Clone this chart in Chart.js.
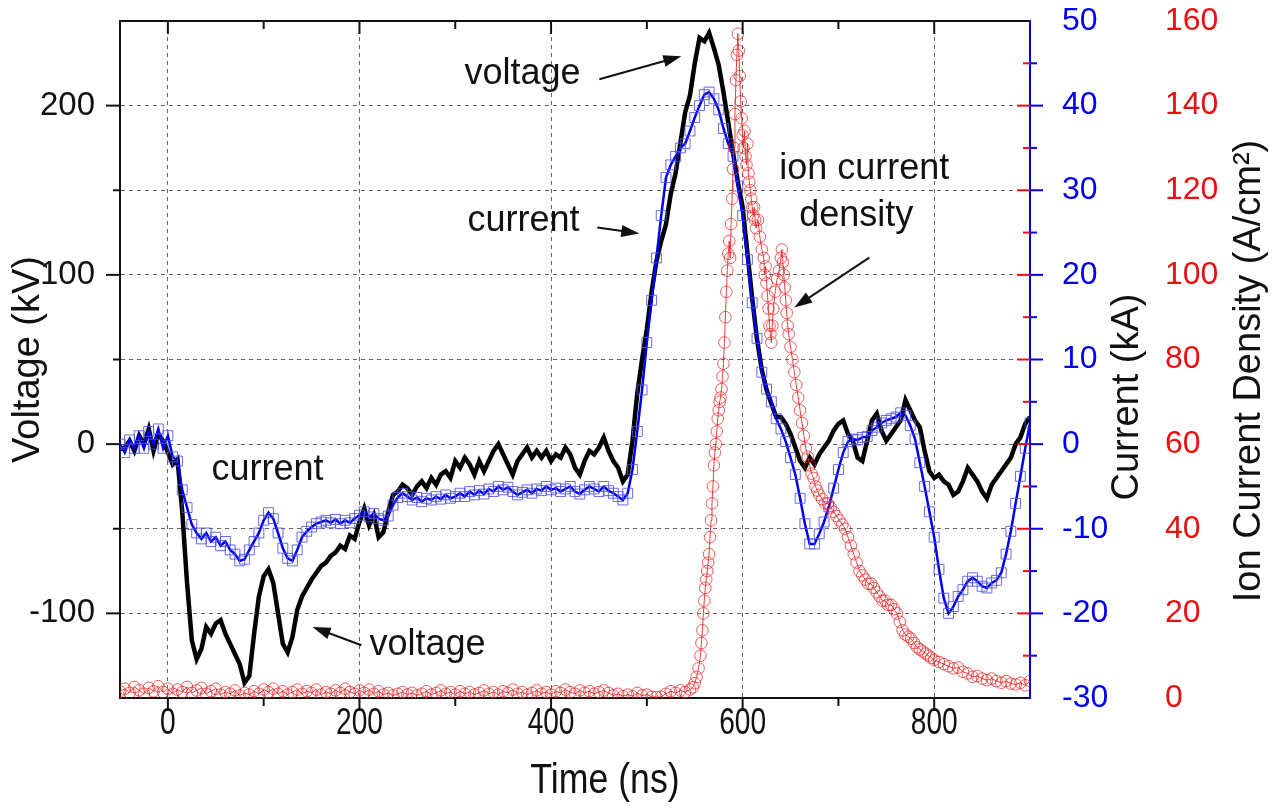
<!DOCTYPE html>
<html>
<head>
<meta charset="utf-8">
<script src="https://cdn.jsdelivr.net/npm/chart.js@4.4.1/dist/chart.umd.min.js"></script>
<style>
  html, body { margin: 0; padding: 0; background: #fff; }
  canvas { display: block; }
</style>
</head>
<body>
<canvas id="chart" width="1278" height="808"></canvas>
<script>
// sample times (ns) for voltage and current
const time = [
  -50, -45, -40, -35, -30, -25, -20, -15, -10, -5, 0, 5, 10, 15, 20, 25, 30, 35, 40, 45,
  50, 55, 60, 65, 70, 75, 80, 85, 90, 95, 100, 105, 110, 115, 120, 125, 130, 135, 140, 145,
  150, 155, 160, 165, 170, 175, 180, 185, 190, 195, 200, 205, 210, 215, 220, 225, 230, 235, 240, 245,
  250, 255, 260, 265, 270, 275, 280, 285, 290, 295, 300, 305, 310, 315, 320, 325, 330, 335, 340, 345,
  350, 355, 360, 365, 370, 375, 380, 385, 390, 395, 400, 405, 410, 415, 420, 425, 430, 435, 440, 445,
  450, 455, 460, 465, 470, 475, 480, 485, 490, 495, 500, 505, 510, 515, 520, 525, 530, 535, 540, 545,
  550, 555, 560, 565, 570, 575, 580, 585, 590, 595, 600, 605, 610, 615, 620, 625, 630, 635, 640, 645,
  650, 655, 660, 665, 670, 675, 680, 685, 690, 695, 700, 705, 710, 715, 720, 725, 730, 735, 740, 745,
  750, 755, 760, 765, 770, 775, 780, 785, 790, 795, 800, 805, 810, 815, 820, 825, 830, 835, 840, 845,
  850, 855, 860, 865, 870, 875, 880, 885, 890, 895, 900
];

// voltage (kV)
const voltage = [
  -3, -2, 2, -4, 5, 0, 9, -4, 6, 2, -5, -12, -9, -40, -82, -116, -127, -121, -108, -112,
  -106, -104, -112, -118, -124, -130, -141, -137, -112, -90, -78, -74, -82, -100, -118, -123, -114, -98, -90, -85,
  -80, -76, -72, -70, -66, -64, -60, -62, -54, -56, -46, -38, -48, -42, -55, -52, -40, -30, -28, -24,
  -26, -30, -25, -22, -26, -20, -24, -18, -16, -20, -10, -14, -8, -12, -18, -10, -16, -10, -4, 0,
  -6, -12, -18, -10, -6, -2, -8, -4, -8, -4, -10, -6, -8, -2, -6, -14, -18, -10, -4, -6,
  -2, 4, -4, -10, -14, -22, -18, 2, 30, 50, 68, 90, 108, 120, 130, 148, 160, 178, 196, 206,
  225, 240, 238, 243, 234, 224, 208, 190, 172, 155, 140, 113, 86, 62, 44, 32, 24, 16, 16, 12,
  6, -2, -10, -14, -8, -12, -6, -2, 2, 8, 12, 14, 6, 2, -8, -10, 2, 14, 18, 8,
  2, 6, 10, 14, 26, 20, 14, 10, -4, -16, -20, -18, -22, -24, -30, -28, -22, -14, -18, -22,
  -28, -32, -24, -20, -16, -12, -8, 0, 4, 12, 16
];

// current (kA)
const current = [
  0, -1, 0.5, -0.5, 1, -0.5, 1.5, 0, 1.8, -0.5, 1, -1.5, -2, -5.4, -7.5, -9.5, -10.5, -11.2, -10.5, -11.5,
  -11, -12, -11.5, -12.5, -13, -13.8, -13.6, -12.5, -11.5, -10.5, -9, -8.1, -8.8, -10.5, -12.3, -13.5, -13.8, -12.5, -11, -10.3,
  -9.8, -9.4, -9.2, -9, -9.3, -8.9, -9.4, -9, -9.3, -8.8, -8.4, -8, -8.6, -8.2, -8.8, -9, -8.5, -7.2, -6.3, -5.8,
  -6.2, -6.6, -6.3, -6.8, -6.4, -6.6, -6.2, -6.5, -6, -6.4, -6.2, -5.8, -6.2, -5.6, -6, -5.5, -5.9, -5.3, -5.6, -5,
  -5.4, -5.1, -5.6, -6, -5.7, -5.4, -5.8, -5.3, -5.5, -5, -5.4, -5.2, -5.6, -5.3, -5, -5.6, -5.9, -5.4, -5, -5.3,
  -5.6, -5, -5.5, -5.8, -6.2, -6.6, -5.8, -3, 1.5, 6.4, 12, 17, 22, 27, 31.5, 33, 34, 35, 35.5, 37,
  38.6, 40, 41.3, 41.6, 40.8, 39.5, 37.3, 35.5, 34, 30.5, 27, 21.8, 16.7, 12.5, 8.5, 6.5, 5, 3, 1.8, 0.3,
  -1.6, -3.6, -6.4, -9.4, -11.8, -11.8, -10.6, -9.2, -7.4, -5.2, -3, -1, 0.3, 0.6, 0.5, 0.8, 0.9, 1.6, 2, 2.5,
  2.8, 3, 3.2, 3.7, 3.4, 2.2, 0.6, -2.2, -5, -8, -11, -14.8, -18.2, -20, -19.2, -18, -17.2, -16.2, -15.8, -16.2,
  -16.8, -17, -16.4, -16.1, -15.2, -13, -10.3, -7, -3.8, -0.5, 2.5
];

// ion current density (A/cm2), own sample times
const ionTime = [
  -50, -45, -40, -35, -30, -25, -20, -15, -10, -5, 0, 5, 10, 15, 20, 25, 30, 35, 40, 45,
  50, 55, 60, 65, 70, 75, 80, 85, 90, 95, 100, 105, 110, 115, 120, 125, 130, 135, 140, 145,
  150, 155, 160, 165, 170, 175, 180, 185, 190, 195, 200, 205, 210, 215, 220, 225, 230, 235, 240, 245,
  250, 255, 260, 265, 270, 275, 280, 285, 290, 295, 300, 305, 310, 315, 320, 325, 330, 335, 340, 345,
  350, 355, 360, 365, 370, 375, 380, 385, 390, 395, 400, 405, 410, 415, 420, 425, 430, 435, 440, 445,
  450, 455, 460, 465, 470, 475, 480, 485, 490, 495, 500, 505, 510, 515, 520, 525, 530, 535, 540, 545,
  548, 550, 552, 554, 556, 557, 558, 559, 560, 561, 562, 563, 564, 565, 566, 567, 568, 569, 570, 571,
  572, 573, 574, 575, 576, 577, 578, 579, 580, 581, 582, 583, 584, 585, 586, 587, 588, 589, 590, 591,
  592, 593, 594, 595, 596, 597, 598, 599, 600, 601, 602, 603, 604, 605, 606, 607, 608, 609, 610, 611,
  612, 613, 614, 616, 618, 620, 622, 623, 624, 625, 626, 627, 628, 629, 630, 631, 632, 634, 636, 638,
  640, 641, 642, 643, 644, 645, 646, 647, 648, 650, 652, 654, 656, 658, 660, 662, 664, 666, 668, 670,
  672, 674, 676, 678, 680, 683, 686, 689, 692, 695, 698, 701, 704, 707, 710, 713, 716, 719, 722, 725,
  728, 731, 734, 737, 740, 743, 746, 749, 752, 755, 758, 761, 764, 767, 770, 773, 776, 779, 782, 785,
  788, 791, 794, 797, 800, 805, 810, 815, 820, 825, 830, 835, 840, 845, 850, 855, 860, 865, 870, 875,
  880, 885, 890, 895, 900
];
const ionDensity = [
  1.5, 2.2, 1.2, 2.6, 1.8, 1.0, 2.4, 1.6, 2.8, 1.4, 2.2, 1.0, 2.0, 1.4, 2.6, 1.2, 1.8, 2.4, 1.0, 1.6,
  2.2, 0.8, 1.4, 1.0, 1.8, 0.6, 1.2, 0.8, 1.6, 1.0, 2.0, 1.4, 2.2, 1.0, 1.6, 0.8, 1.4, 2.0, 1.0, 1.6,
  1.2, 2.0, 0.8, 1.4, 1.0, 1.8, 1.2, 2.2, 1.4, 1.0, 1.8, 1.2, 2.0, 1.0, 1.6, 0.8, 1.2, 0.6, 1.0, 1.4,
  0.8, 1.2, 0.6, 1.0, 1.6, 0.8, 1.2, 1.8, 1.0, 1.4, 0.8, 1.6, 1.0, 1.4, 0.8, 1.2, 1.8, 1.0, 1.4, 0.8,
  1.6, 1.2, 2.0, 1.0, 1.4, 0.8, 1.2, 1.8, 1.0, 1.4, 0.8, 1.6, 1.2, 2.0, 1.4, 1.0, 1.8, 1.2, 1.6, 1.0,
  1.4, 1.8, 1.2, 0.6, 1.0, 0.4, 0.8, 0.4, 1.2, 0.6, 0.8, 0.3, 0.2, 0.3, 1.0, 1.6, 1.2, 1.8, 1.4, 2.0,
  2.5, 3.5, 5, 7, 10, 13, 16, 20, 23, 26, 28, 30, 32, 34, 38, 42, 46, 50, 55, 58,
  60, 63, 66, 68, 70, 71, 73, 76, 79, 84, 90, 96, 101, 105, 108, 104, 112, 118, 125, 130,
  138, 146, 152, 157, 153, 147, 141, 137, 133, 130, 134, 128, 126, 131, 124, 122, 120, 118, 116, 114,
  116, 113, 111, 113, 109, 106, 104, 100, 102, 98, 95, 92, 88, 86, 84, 88, 92, 96, 99, 101,
  104, 106, 103, 100, 97, 94, 91, 88, 86, 83, 80, 77, 74, 71, 68, 65, 62, 59, 57, 55,
  53, 52, 50, 49, 48, 47, 46, 46, 45, 44, 43, 42, 41, 40, 38, 36, 34, 32, 30, 29,
  28, 27, 27, 26, 25, 24, 23, 23, 22, 22, 21, 20, 18, 16, 15, 14.5, 14, 13, 12, 11.5,
  11, 10.5, 10, 9.5, 9, 8.5, 8, 7.5, 7, 7.2, 6.2, 5.8, 5, 5.2, 4.6, 4.2, 4.6, 4, 3.6, 4,
  3.4, 3.2, 3.6, 3, 4
];

// tick marks drawn on the frame
const timeTicks = [0, 100, 200, 300, 400, 500, 600, 700, 800];
const timeLabels = [0, 200, 400, 600, 800];
const voltageTicks = [-100, -50, 0, 50, 100, 150, 200];
const currentTicks = [-25, -20, -15, -10, -5, 0, 5, 10, 15, 20, 25, 30, 35, 40, 45];
const ionTicks = [10, 20, 30, 40, 50, 60, 70, 80, 90, 100, 110, 120, 130, 140, 150];

// annotations, in data units (time, voltage)
const labels = [
  { text: 'voltage', t: 309.6, v: 218.5 },
  { text: 'current', t: 312.7, v: 131.5 },
  { text: 'current', t: 45.6, v: -15.2 },
  { text: 'voltage', t: 210.5, v: -118.8 },
  { text: 'ion current', t: 638.2, v: 162.3 },
  { text: 'density', t: 659, v: 134.5 }
];
const arrows = [
  { from: [450.4, 215.6], to: [536, 229.2] },
  { from: [448.3, 128], to: [492.1, 124.4] },
  { from: [202.1, -118.8], to: [151, -108.1] },
  { from: [732.2, 110.2], to: [653.9, 80.7] }
];

const sans = '"Liberation Sans", Arial, sans-serif';
const blue = '#0000ee';
const red = '#e81010';

function line(ctx, x1, y1, x2, y2) {
  ctx.beginPath();
  ctx.moveTo(x1, y1);
  ctx.lineTo(x2, y2);
  ctx.stroke();
}

function arrowHead(ctx, x1, y1, x2, y2) {
  const a = Math.atan2(y2 - y1, x2 - x1);
  const c = Math.cos(a), s = Math.sin(a);
  line(ctx, x1, y1, x2 - 12 * c, y2 - 12 * s);
  ctx.beginPath();
  ctx.moveTo(x2, y2);
  ctx.lineTo(x2 - 18 * c + 6 * s, y2 - 18 * s - 6 * c);
  ctx.lineTo(x2 - 18 * c - 6 * s, y2 - 18 * s + 6 * c);
  ctx.closePath();
  ctx.fill();
}

// narrow text: no condensed font is installed, so squeeze horizontally
function narrowText(ctx, text, x, y, squeeze) {
  ctx.save();
  ctx.translate(x, y);
  ctx.scale(squeeze, 1);
  ctx.fillText(text, 0, 0);
  ctx.restore();
}

const frame = {
  id: 'frame',
  afterDraw(chart) {
    const ctx = chart.ctx;
    const a = chart.chartArea;
    const sx = chart.scales.x, sy = chart.scales.y;
    const sc = chart.scales.yCurrent, si = chart.scales.yIon;
    ctx.save();
    ctx.lineWidth = 2;
    ctx.strokeStyle = '#111';
    line(ctx, a.left - 1, a.top, a.right, a.top);
    timeTicks.forEach(v => {
      const px = sx.getPixelForValue(v);
      const len = v % 200 === 0 ? 13 : 8;
      line(ctx, px, a.bottom, px, a.bottom + len);
      line(ctx, px, a.top, px, a.top + len);
    });
    voltageTicks.forEach(v => {
      const py = sy.getPixelForValue(v);
      line(ctx, a.left, py, a.left - (v % 100 === 0 ? 14 : 7), py);
    });
    ctx.strokeStyle = red;
    ionTicks.forEach(v => {
      const py = si.getPixelForValue(v);
      line(ctx, a.right, py, a.right - (v % 20 === 0 ? 13 : 7), py);
    });
    ctx.strokeStyle = blue;
    currentTicks.forEach(v => {
      const py = sc.getPixelForValue(v);
      line(ctx, a.right, py, a.right + (v % 10 === 0 ? 13 : 7), py);
    });

    // time axis labels and title
    ctx.fillStyle = '#111';
    ctx.textAlign = 'center';
    ctx.textBaseline = 'middle';
    ctx.font = '36px ' + sans;
    timeLabels.forEach(v => {
      narrowText(ctx, String(v), sx.getPixelForValue(v), a.bottom + 26, 0.78);
    });
    ctx.font = '42px ' + sans;
    narrowText(ctx, 'Time (ns)', 605, 781, 0.85);

    // right axis titles
    ctx.font = '38px ' + sans;
    ctx.save();
    ctx.translate(1128, 397);
    ctx.rotate(-Math.PI / 2);
    ctx.fillText('Current (kA)', 0, 0);
    ctx.restore();
    ctx.save();
    ctx.translate(1250, 371);
    ctx.rotate(-Math.PI / 2);
    ctx.fillText('Ion Current Density (A/cm²)', 0, 0);
    ctx.restore();

    // annotations
    ctx.font = '36px ' + sans;
    ctx.textAlign = 'left';
    labels.forEach(l => {
      ctx.fillText(l.text, sx.getPixelForValue(l.t), sy.getPixelForValue(l.v));
    });
    ctx.lineWidth = 2;
    ctx.strokeStyle = '#111';
    arrows.forEach(r => {
      arrowHead(ctx,
        sx.getPixelForValue(r.from[0]), sy.getPixelForValue(r.from[1]),
        sx.getPixelForValue(r.to[0]), sy.getPixelForValue(r.to[1]));
    });
    ctx.restore();
  }
};

function points(xs, ys) {
  return xs.map((t, i) => ({ x: t, y: ys[i] }));
}

function noPadV(s, w) {
  s.width = w;
  s.paddingTop = 0;
  s.paddingBottom = 0;
}

new Chart(document.getElementById('chart'), {
  type: 'line',
  data: {
    datasets: [
      {
        label: 'ion current density',
        data: points(ionTime, ionDensity),
        yAxisID: 'yIon',
        borderColor: 'rgba(232,30,30,0.85)',
        borderWidth: 1,
        pointStyle: 'circle',
        pointRadius: 5.8,
        pointBorderWidth: 1,
        pointBorderColor: 'rgba(232,40,40,0.75)',
        pointBackgroundColor: 'rgba(255,255,255,0)',
        order: 1
      },
      {
        label: 'current',
        data: points(time, current),
        yAxisID: 'yCurrent',
        borderColor: blue,
        borderWidth: 2.5,
        pointStyle: 'rect',
        pointRadius: 7,
        pointBorderWidth: 1,
        pointBorderColor: 'rgba(80,80,230,0.85)',
        pointBackgroundColor: 'rgba(255,255,255,0)',
        order: 2
      },
      {
        label: 'voltage',
        data: points(time, voltage),
        yAxisID: 'y',
        borderColor: '#000',
        borderWidth: 4.5,
        pointRadius: 0,
        order: 3
      }
    ]
  },
  options: {
    responsive: false,
    animation: false,
    devicePixelRatio: 1,
    layout: { padding: { top: 21, left: 0, right: 0, bottom: 0 } },
    plugins: { legend: { display: false }, tooltip: { enabled: false } },
    elements: { line: { tension: 0 } },
    scales: {
      x: {
        type: 'linear',
        position: 'bottom',
        min: -50,
        max: 900,
        afterFit: s => { s.height = 110; s.paddingLeft = 0; s.paddingRight = 0; },
        ticks: { display: false, stepSize: 200, includeBounds: false },
        grid: { color: '#666', lineWidth: 1, drawTicks: false },
        border: { display: true, color: '#111', width: 2, dash: [4, 4] }
      },
      y: {
        position: 'left',
        min: -150,
        max: 250,
        afterFit: s => noPadV(s, 120),
        ticks: {
          stepSize: 50,
          includeBounds: false,
          padding: 25,
          color: '#111',
          font: { family: sans, size: 33 },
          callback: v => (v % 100 === 0 && v > -150 && v < 250) ? v : ''
        },
        grid: {
          drawTicks: false,
          lineWidth: 1,
          color: c => (c.tick && c.tick.value > -150 && c.tick.value < 250) ? '#666' : 'rgba(0,0,0,0)'
        },
        border: { display: true, color: '#111', width: 2, dash: [4, 4] },
        title: { display: true, text: 'Voltage (kV)', color: '#111', font: { family: sans, size: 38 }, padding: { top: 6, bottom: 0 } }
      },
      yCurrent: {
        position: 'right',
        weight: 0,
        min: -30,
        max: 50,
        afterFit: s => noPadV(s, 120),
        ticks: { stepSize: 10, padding: 32, color: blue, font: { family: sans, size: 32 } },
        grid: { drawOnChartArea: false, drawTicks: false },
        border: { display: true, color: blue, width: 2 }
      },
      yIon: {
        position: 'right',
        weight: 1,
        min: 0,
        max: 160,
        afterFit: s => noPadV(s, 128),
        ticks: { stepSize: 20, padding: 15, color: red, font: { family: sans, size: 32 } },
        grid: { drawOnChartArea: false, drawTicks: false },
        border: { display: false }
      }
    }
  },
  plugins: [frame]
});
</script>
</body>
</html>
